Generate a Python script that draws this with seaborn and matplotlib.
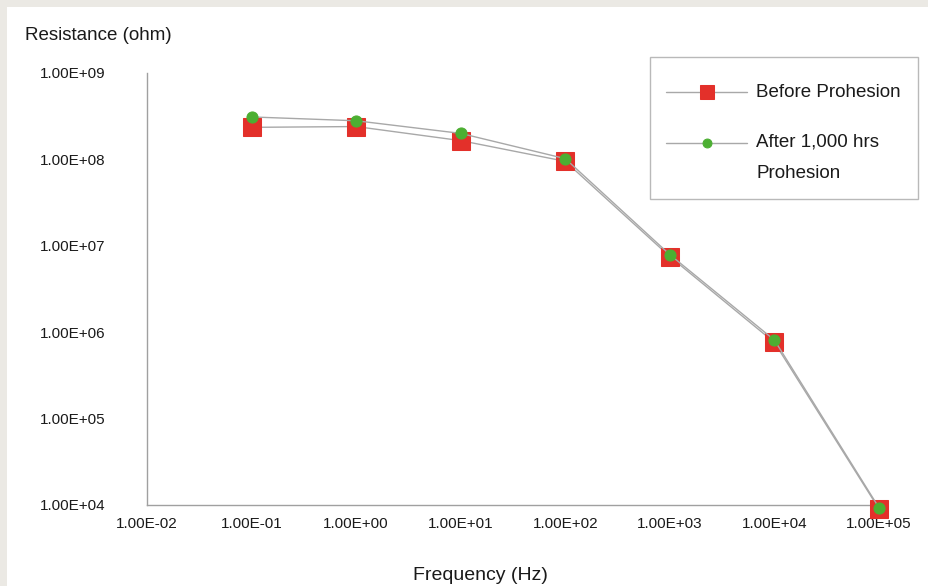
import matplotlib
matplotlib.use("Agg")
import matplotlib.pyplot as plt
from matplotlib.patches import Rectangle
from matplotlib.legend_handler import HandlerLine2D
import seaborn as sns
import pandas as pd
import numpy as np

# Werte
frequency = [1e-1, 1e0, 1e1, 1e2, 1e3, 1e4, 1e5]
before = [2.35e8, 2.4e8, 1.65e8, 9.5e7, 7.5e6, 7.6e5, 9.0e3]
after = [3.1e8, 2.8e8, 2.0e8, 1.02e8, 7.9e6, 8.1e5, 9.3e3]
x_ticks = [1e-2, 1e-1, 1e0, 1e1, 1e2, 1e3, 1e4, 1e5]
x_labels = ["1.00E-02", "1.00E-01", "1.00E+00", "1.00E+01", "1.00E+02", "1.00E+03", "1.00E+04", "1.00E+05"]
y_ticks = [1e4, 1e5, 1e6, 1e7, 1e8, 1e9]
y_labels = ["1.00E+04", "1.00E+05", "1.00E+06", "1.00E+07", "1.00E+08", "1.00E+09"]

sns.set_style("white")
plt.rcParams["font.family"] = ["Liberation Sans", "DejaVu Sans"]


class ShiftHandler(HandlerLine2D):
    # Legendenlinie vertikal verschieben, damit sie zur Textzeile passt
    def __init__(self, shift, **kw):
        super().__init__(**kw)
        self.shift = shift

    def create_artists(self, legend, orig_handle, xdescent, ydescent, width, height, fontsize, trans):
        arts = super().create_artists(legend, orig_handle, xdescent, ydescent, width, height, fontsize, trans)
        for a in arts:
            a.set_ydata(np.asarray(a.get_ydata(), dtype=float) + self.shift)
        return arts


df_before = pd.DataFrame({"freq": frequency, "res": before})
df_after = pd.DataFrame({"freq": frequency, "res": after})

fig = plt.figure(figsize=(9.29, 5.86), dpi=100)
fig.patch.set_facecolor("#ebe9e4")
fig.patches.append(Rectangle((7 / 929, 0), 1, 1 - 7 / 586, transform=fig.transFigure,
                             facecolor="white", edgecolor="none", zorder=-10))
ax = fig.add_axes([147 / 929, 1 - 505 / 586, 732 / 929, 432 / 586])
ax.set_facecolor("none")

line_col = "#a8a8a8"
sns.lineplot(data=df_before, x="freq", y="res", ax=ax, color=line_col, lw=1,
             marker="s", markersize=13, markerfacecolor="#e3302a", markeredgecolor="#e3302a",
             label="Before Prohesion", clip_on=False, zorder=3)
sns.lineplot(data=df_after, x="freq", y="res", ax=ax, color=line_col, lw=1,
             marker="o", markersize=8, markerfacecolor="#4caf32", markeredgecolor="#4caf32",
             label="After 1,000 hrs\nProhesion", clip_on=False, zorder=4)

ax.set_xscale("log")
ax.set_yscale("log")
ax.set_xlim(1e-2, 1e5)
ax.set_ylim(1e4, 1e9)
ax.set_xticks(x_ticks)
ax.set_xticklabels(x_labels, fontsize=11)
ax.set_yticks(y_ticks)
ax.set_yticklabels(y_labels, fontsize=11)
ax.minorticks_off()
ax.tick_params(axis="both", direction="inout", length=6, width=0.8, color="#a0a0a0",
               labelcolor="#1a1a1a")
ax.tick_params(axis="y", pad=27)
ax.tick_params(axis="x", pad=6)
for s in ["top", "right"]:
    ax.spines[s].set_visible(False)
for s in ["left", "bottom"]:
    ax.spines[s].set_color("#a0a0a0")
    ax.spines[s].set_linewidth(1)
ax.set_xlabel("")
ax.set_ylabel("")

fig.text(25 / 929, 1 - 35 / 586, "Resistance (ohm)", fontsize=13.5, color="#1a1a1a", va="center")
fig.text(480 / 929, 1 - 575 / 586, "Frequency (Hz)", fontsize=14, color="#1a1a1a",
         ha="center", va="center")

handles, labels = ax.get_legend_handles_labels()
leg = ax.legend(handles, labels, loc="upper right", bbox_to_anchor=(918 / 929, 1 - 57 / 586),
                bbox_transform=fig.transFigure, fontsize=13.5, frameon=True, fancybox=False,
                handlelength=4.3, handleheight=2.47, borderpad=0.9, labelspacing=1.35,
                handletextpad=0.5, borderaxespad=0, markerscale=0.8,
                handler_map={handles[0]: ShiftHandler(-4.5), handles[1]: ShiftHandler(7)})
leg.get_frame().set_edgecolor("#a8a8a8")
leg.get_frame().set_linewidth(1)
for t in leg.get_texts():
    t.set_color("#1a1a1a")
    t.set_linespacing(2.1)

fig.savefig("out.png", dpi=100, facecolor=fig.get_facecolor())
